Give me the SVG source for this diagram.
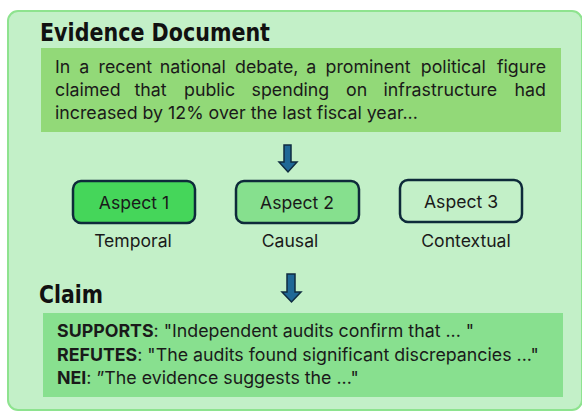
<svg xmlns="http://www.w3.org/2000/svg" width="582" height="412" viewBox="0 0 582 412">
  <style>
    .title { font-family: "DejaVu Sans", sans-serif; font-weight: bold; font-size: 25px; fill: #111; }
    .body { font-family: Inter, "Open Sans", sans-serif; font-size: 17.8px; fill: #1a1a1a; }
    .lbl { font-family: Inter, "Open Sans", sans-serif; font-size: 17.6px; fill: #1a1a1a; text-anchor: middle; }
    .aspect { stroke: #0e2a3a; stroke-width: 2.5; }
    .arrow { fill: #1f6896; stroke: #0f2b40; stroke-width: 1.5; stroke-linejoin: miter; }
    .b { font-weight: bold; }
    .end { text-anchor: end; }
  </style>

  <!-- outer panel -->
  <rect x="8" y="11" width="574" height="399" rx="10" fill="#c3f0c8" stroke="#8ee38f" stroke-width="2"/>

  <g id="evidence">
    <text class="title" x="40" y="41" textLength="230" lengthAdjust="spacingAndGlyphs">Evidence Document</text>
    <rect x="41" y="48" width="520" height="84" fill="#92d978"/>
    <g class="body">
      <!-- justified lines: each word placed on its own -->
      <text y="73"><tspan x="55">In</tspan><tspan x="79.3">a</tspan><tspan x="98.5">recent</tspan><tspan x="159.8">national</tspan><tspan x="235">debate,</tspan><tspan x="306.3">a</tspan><tspan x="325.5">prominent</tspan><tspan x="420.8">political</tspan></text>
      <text class="end" x="546" y="73">figure</text>
      <text y="96"><tspan x="55">claimed</tspan><tspan x="134.5">that</tspan><tspan x="184">public</tspan><tspan x="251.5">spending</tspan><tspan x="346">on</tspan><tspan x="383.5">infrastructure</tspan></text>
      <text class="end" x="546" y="96">had</text>
      <text x="55" y="119">increased by 12% over the last fiscal year...</text>
    </g>
  </g>

  <g id="aspect1">
    <rect class="aspect" x="73" y="181" width="122" height="42" rx="8" fill="#45d65a"/>
    <text class="lbl" x="134" y="209">Aspect 1</text>
    <text class="lbl" x="133" y="247">Temporal</text>
  </g>
  <g id="aspect2">
    <rect class="aspect" x="236" y="181" width="123" height="42" rx="8" fill="#86e08e"/>
    <text class="lbl" x="297" y="209">Aspect 2</text>
    <text class="lbl" x="290" y="247">Causal</text>
  </g>
  <g id="aspect3">
    <rect class="aspect" x="400" y="180" width="122" height="42" rx="8" fill="#c3f0c8"/>
    <text class="lbl" x="461" y="208">Aspect 3</text>
    <text class="lbl" x="466" y="247">Contextual</text>
  </g>

  <g id="claim">
    <text class="title" x="39" y="303" textLength="64" lengthAdjust="spacingAndGlyphs">Claim</text>
    <rect x="43" y="313" width="520" height="84" fill="#88e08f"/>
    <g class="body">
      <text x="57" y="337"><tspan class="b">SUPPORTS</tspan>: "Independent audits confirm that ... "</text>
      <text x="57" y="361"><tspan class="b">REFUTES</tspan>: "The audits found significant discrepancies ..."</text>
      <text x="57" y="384"><tspan class="b">NEI</tspan>: ”The evidence suggests the ..."</text>
    </g>
  </g>

  <g id="connectors">
    <path class="arrow" d="M284 145 H291 V162 H297 L288 172 L279 162 H284 Z"/>
    <path class="arrow" d="M287 274 H295 V292 H301 L291.5 302 L282 292 H287 Z"/>
  </g>
</svg>
